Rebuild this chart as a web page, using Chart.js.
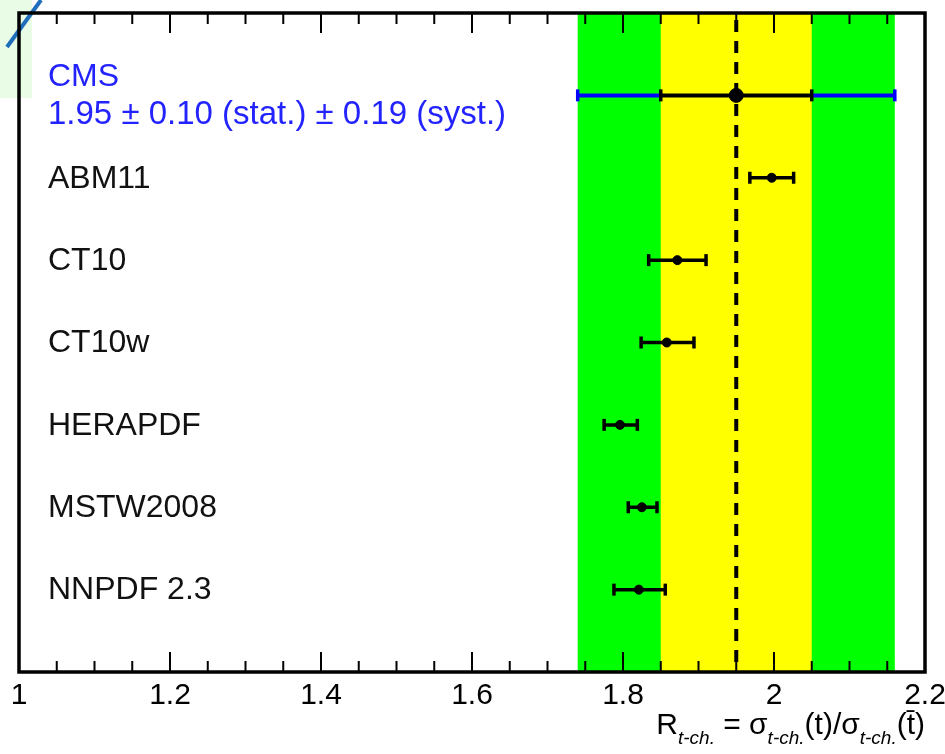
<!DOCTYPE html>
<html>
<head>
<meta charset="utf-8">
<script src="https://cdn.jsdelivr.net/npm/chart.js@4"></script>
<style>
  body { margin: 0; background: #fff; }
  #wrap { width: 945px; height: 754px; }
</style>
</head>
<body>
<div id="wrap"><canvas id="ratiochart" width="945" height="754"></canvas></div>
<script>
// PDF predictions, top to bottom
const pdfNames = ['ABM11', 'CT10', 'CT10w', 'HERAPDF', 'MSTW2008', 'NNPDF 2.3'];
const pdfRows = [6, 5, 4, 3, 2, 1];
const pdfCentral = [1.997, 1.872, 1.858, 1.796, 1.825, 1.821];
const pdfLow = [1.968, 1.834, 1.824, 1.775, 1.807, 1.788];
const pdfHigh = [2.026, 1.910, 1.894, 1.819, 1.845, 1.856];

const cmsRow = 7;
const cmsValue = 1.95;
const cmsStat = 0.10;
const cmsSyst = 0.19;
const cmsTotal = 0.21;

const xTicks = [1, 1.2, 1.4, 1.6, 1.8, 2, 2.2];

const FONT = '"Liberation Sans", Arial, sans-serif';

// white page + the pale corner left over from the slide
const backgroundPlugin = {
  id: 'background',
  beforeDraw(chart) {
    const c = chart.ctx;
    c.save();
    c.fillStyle = '#ffffff';
    c.fillRect(0, 0, chart.width, chart.height);
    c.restore();
  },
  afterDraw(chart) {
    const c = chart.ctx;
    c.save();
    c.globalCompositeOperation = 'multiply';
    c.fillStyle = '#e8fce6';
    c.fillRect(0, 0, 32, 98);
    c.restore();
    c.save();
    c.strokeStyle = '#1f6dbb';
    c.lineWidth = 4;
    c.beginPath();
    c.moveTo(7, 47);
    c.lineTo(41, 0);
    c.stroke();
    c.restore();
  }
};

// green (total) and yellow (stat) bands, dashed central line, error bars
const bandPlugin = {
  id: 'bands',
  beforeDatasetsDraw(chart) {
    const c = chart.ctx;
    const x = chart.scales.x;
    const y = chart.scales.y;
    const area = chart.chartArea;
    c.save();
    let x1 = x.getPixelForValue(cmsValue - cmsTotal);
    let x2 = x.getPixelForValue(cmsValue + cmsTotal);
    c.fillStyle = '#00ff00';
    c.fillRect(x1, area.top, x2 - x1, area.bottom - area.top);
    x1 = x.getPixelForValue(cmsValue - cmsStat);
    x2 = x.getPixelForValue(cmsValue + cmsStat);
    c.fillStyle = '#ffff00';
    c.fillRect(x1, area.top, x2 - x1, area.bottom - area.top);

    const xm = x.getPixelForValue(cmsValue);
    c.strokeStyle = '#000';
    c.lineWidth = 4;
    c.setLineDash([12, 9]);
    c.beginPath();
    c.moveTo(xm, area.top + 7);
    c.lineTo(xm, area.bottom);
    c.stroke();
    c.restore();

    // error bars go under the markers
    const hbar = (lo, hi, yv, color, w, capLo, capHi) => {
      const a = x.getPixelForValue(lo);
      const b = x.getPixelForValue(hi);
      const py = y.getPixelForValue(yv);
      c.strokeStyle = color;
      c.lineWidth = w;
      c.beginPath();
      c.moveTo(a, py);
      c.lineTo(b, py);
      c.stroke();
      c.lineWidth = 3.5;
      if (capLo) { c.beginPath(); c.moveTo(a, py - 6); c.lineTo(a, py + 6); c.stroke(); }
      if (capHi) { c.beginPath(); c.moveTo(b, py - 6); c.lineTo(b, py + 6); c.stroke(); }
    };
    c.save();
    hbar(cmsValue - cmsTotal, cmsValue - cmsStat, cmsRow, '#0000ff', 4, true, false);
    hbar(cmsValue + cmsStat, cmsValue + cmsTotal, cmsRow, '#0000ff', 4, false, true);
    hbar(cmsValue - cmsStat, cmsValue + cmsStat, cmsRow, '#000', 4, true, true);
    pdfNames.forEach((n, i) => {
      hbar(pdfLow[i], pdfHigh[i], pdfRows[i], '#000', 3.5, true, true);
    });
    c.restore();
  }
};

// ROOT style frame with inward ticks, row labels and axis title
const framePlugin = {
  id: 'frame',
  afterDraw(chart) {
    const c = chart.ctx;
    const x = chart.scales.x;
    const y = chart.scales.y;
    const area = chart.chartArea;
    c.save();
    c.strokeStyle = '#000';
    c.lineWidth = 2;
    for (let k = 0; k <= 24; k++) {
      const v = 1 + k * 0.05;
      const px = x.getPixelForValue(v);
      const len = k % 4 === 0 ? 20 : 11;
      c.beginPath();
      c.moveTo(px, area.top);
      c.lineTo(px, area.top + len);
      c.moveTo(px, area.bottom);
      c.lineTo(px, area.bottom - len);
      c.stroke();
    }
    c.lineWidth = 3.5;
    c.strokeRect(area.left, area.top, area.right - area.left, area.bottom - area.top);

    // labels
    c.textBaseline = 'middle';
    c.textAlign = 'left';
    c.font = '32px ' + FONT;
    const lx = area.left + 29;
    const cy = y.getPixelForValue(cmsRow);
    c.fillStyle = '#2323ff';
    c.fillText('CMS', lx, cy - 18);
    c.font = '33px ' + FONT;
    c.fillText(cmsValue.toFixed(2) + ' \u00b1 ' + cmsStat.toFixed(2) + ' (stat.) \u00b1 ' + cmsSyst.toFixed(2) + ' (syst.)', lx, cy + 20);
    c.font = '32px ' + FONT;
    c.fillStyle = '#111';
    pdfNames.forEach((n, i) => {
      c.fillText(n, lx, y.getPixelForValue(pdfRows[i]) + 1);
    });

    // axis title with subscripts, right aligned to the frame
    const big = '30px ' + FONT;
    const sub = 'italic 19px ' + FONT;
    const parts = [
      ['R', big, 0], ['t-ch.', sub, 10], [' = \u03c3', big, 0], ['t-ch.', sub, 10],
      ['(t)/\u03c3', big, 0], ['t-ch.', sub, 10], ['(t\u0304)', big, 0]
    ];
    let total = 0;
    parts.forEach(p => { c.font = p[1]; total += c.measureText(p[0]).width; });
    let tx = area.right - total;
    const base = 734;
    c.textBaseline = 'alphabetic';
    c.fillStyle = '#000';
    parts.forEach(p => {
      c.font = p[1];
      c.fillText(p[0], tx, base + p[2]);
      tx += c.measureText(p[0]).width;
    });
    c.restore();
  }
};

const ctx = document.getElementById('ratiochart');

new Chart(ctx, {
  type: 'scatter',
  data: {
    datasets: [{
      label: 'CMS',
      data: [{ x: cmsValue, y: cmsRow }],
      backgroundColor: '#000',
      borderColor: '#000',
      pointRadius: 7
    }, {
      label: 'PDF predictions',
      data: pdfCentral.map((v, i) => ({ x: v, y: pdfRows[i] })),
      backgroundColor: '#000',
      borderColor: '#000',
      pointRadius: 4.5
    }]
  },
  options: {
    responsive: false,
    animation: false,
    layout: { padding: { left: 19, right: 20, top: 13, bottom: 0 } },
    plugins: {
      legend: { display: false },
      tooltip: { enabled: false }
    },
    scales: {
      x: {
        type: 'linear',
        min: 1,
        max: 2.2,
        afterFit(scale) {
          scale.height = 82;
          // keep the end labels from pushing the frame inwards
          scale.paddingLeft = 0;
          scale.paddingRight = 0;
        },
        afterBuildTicks(scale) { scale.ticks = xTicks.map(v => ({ value: v })); },
        grid: { display: false, drawTicks: false },
        border: { display: false },
        ticks: {
          autoSkip: false,
          maxRotation: 0,
          padding: 6,
          color: '#000',
          font: { family: FONT, size: 30 },
          callback: v => String(Number(v.toFixed(1)))
        }
      },
      y: {
        type: 'linear',
        min: 0,
        max: 8,
        display: false
      }
    }
  },
  plugins: [backgroundPlugin, bandPlugin, framePlugin]
});
</script>
</body>
</html>
